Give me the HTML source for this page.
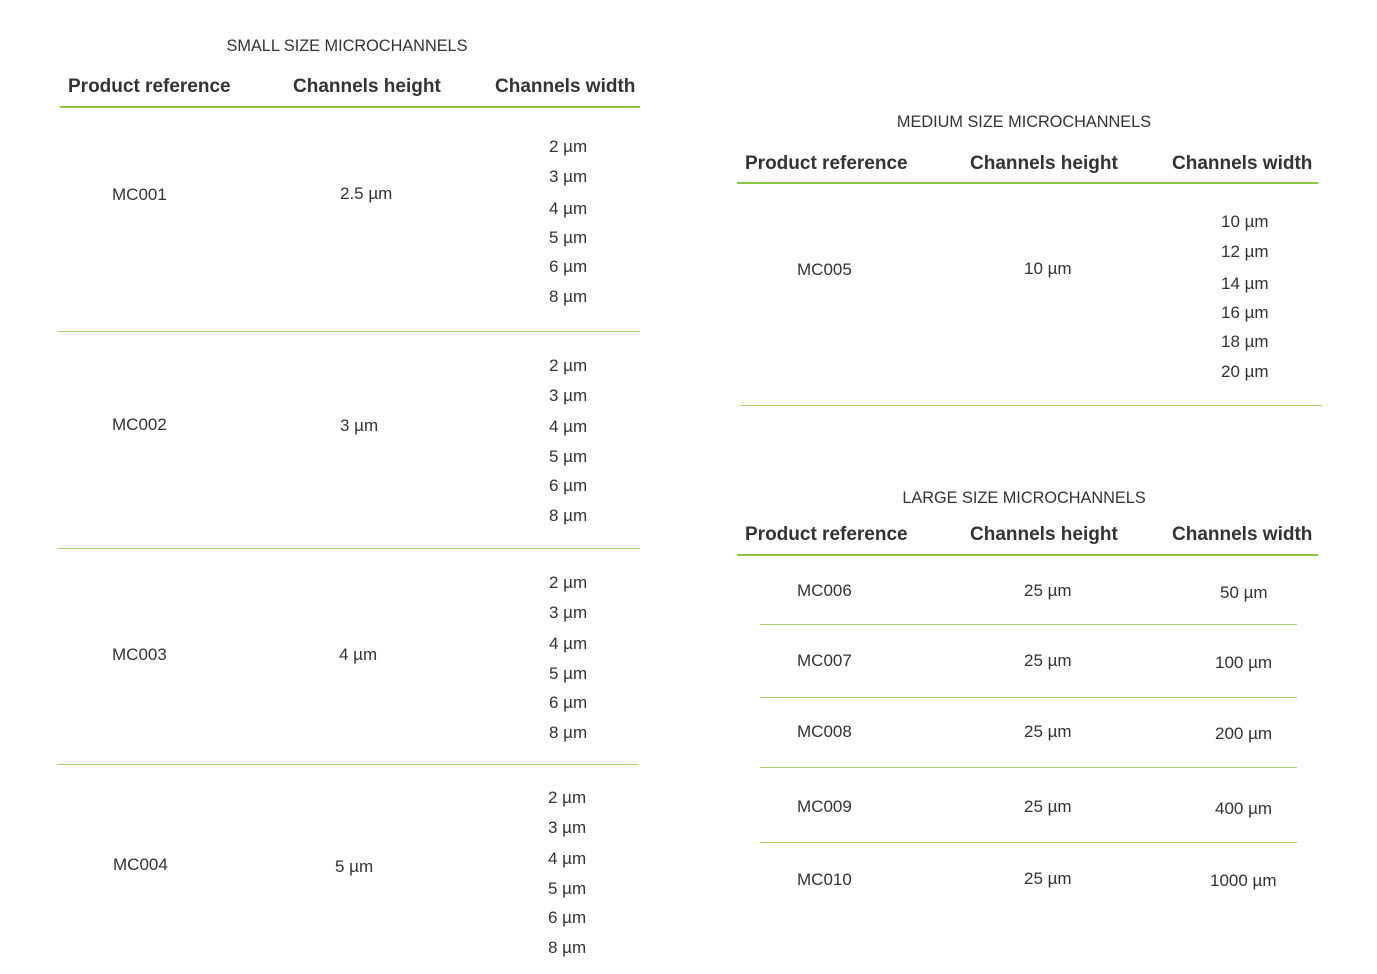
<!DOCTYPE html>
<html><head><meta charset="utf-8"><style>
body{margin:0;background:#fff;width:1377px;height:974px;position:relative;overflow:hidden;font-family:"Liberation Sans",sans-serif;color:#333}
.t{position:absolute;font-size:17px;line-height:20px;white-space:nowrap;margin-top:2px}
.h{position:absolute;font-size:19px;font-weight:bold;line-height:24px;white-space:nowrap;color:#333;margin-top:2px}
.ti{position:absolute;font-size:16.3px;line-height:20px;white-space:nowrap;transform:translateX(-50%);margin-top:2px}
.l{position:absolute;height:1px;background:#a9d46a}
.L{position:absolute;height:2px;background:#8dc63f}
</style></head><body>
<div class="ti" style="left:347px;top:34px">SMALL SIZE MICROCHANNELS</div>
<div class="h" style="left:68px;top:73px">Product reference</div>
<div class="h" style="left:293px;top:73px">Channels height</div>
<div class="h" style="left:495px;top:73px">Channels width</div>
<div class="L" style="left:60px;top:106px;width:580px"></div>

<div class="t" style="left:112px;top:183px">MC001</div>
<div class="t" style="left:340px;top:182px">2.5 µm</div>
<div class="t" style="left:549px;top:135px">2 µm</div>
<div class="t" style="left:549px;top:165px">3 µm</div>
<div class="t" style="left:549px;top:197px">4 µm</div>
<div class="t" style="left:549px;top:226px">5 µm</div>
<div class="t" style="left:549px;top:255px">6 µm</div>
<div class="t" style="left:549px;top:285px">8 µm</div>
<div class="l" style="left:58px;top:331px;width:582px"></div>

<div class="t" style="left:112px;top:413px">MC002</div>
<div class="t" style="left:340px;top:414px">3 µm</div>
<div class="t" style="left:549px;top:354px">2 µm</div>
<div class="t" style="left:549px;top:384px">3 µm</div>
<div class="t" style="left:549px;top:415px">4 µm</div>
<div class="t" style="left:549px;top:445px">5 µm</div>
<div class="t" style="left:549px;top:474px">6 µm</div>
<div class="t" style="left:549px;top:504px">8 µm</div>
<div class="l" style="left:58px;top:548px;width:582px"></div>

<div class="t" style="left:112px;top:643px">MC003</div>
<div class="t" style="left:339px;top:643px">4 µm</div>
<div class="t" style="left:549px;top:571px">2 µm</div>
<div class="t" style="left:549px;top:601px">3 µm</div>
<div class="t" style="left:549px;top:632px">4 µm</div>
<div class="t" style="left:549px;top:662px">5 µm</div>
<div class="t" style="left:549px;top:691px">6 µm</div>
<div class="t" style="left:549px;top:721px">8 µm</div>
<div class="l" style="left:57px;top:764px;width:581px"></div>

<div class="t" style="left:113px;top:853px">MC004</div>
<div class="t" style="left:335px;top:855px">5 µm</div>
<div class="t" style="left:548px;top:786px">2 µm</div>
<div class="t" style="left:548px;top:816px">3 µm</div>
<div class="t" style="left:548px;top:847px">4 µm</div>
<div class="t" style="left:548px;top:877px">5 µm</div>
<div class="t" style="left:548px;top:906px">6 µm</div>
<div class="t" style="left:548px;top:936px">8 µm</div>

<div class="ti" style="left:1024px;top:110px">MEDIUM SIZE MICROCHANNELS</div>
<div class="h" style="left:745px;top:150px">Product reference</div>
<div class="h" style="left:970px;top:150px">Channels height</div>
<div class="h" style="left:1172px;top:150px">Channels width</div>
<div class="L" style="left:737px;top:182px;width:581px"></div>
<div class="t" style="left:797px;top:258px">MC005</div>
<div class="t" style="left:1024px;top:257px">10 µm</div>
<div class="t" style="left:1221px;top:210px">10 µm</div>
<div class="t" style="left:1221px;top:240px">12 µm</div>
<div class="t" style="left:1221px;top:272px">14 µm</div>
<div class="t" style="left:1221px;top:301px">16 µm</div>
<div class="t" style="left:1221px;top:330px">18 µm</div>
<div class="t" style="left:1221px;top:360px">20 µm</div>
<div class="l" style="left:740px;top:405px;width:582px"></div>

<div class="ti" style="left:1024px;top:486px">LARGE SIZE MICROCHANNELS</div>
<div class="h" style="left:745px;top:521px">Product reference</div>
<div class="h" style="left:970px;top:521px">Channels height</div>
<div class="h" style="left:1172px;top:521px">Channels width</div>
<div class="L" style="left:737px;top:554px;width:581px"></div>

<div class="t" style="left:797px;top:579px">MC006</div>
<div class="t" style="left:1024px;top:579px">25 µm</div>
<div class="t" style="left:1220px;top:581px">50 µm</div>
<div class="l" style="left:760px;top:624px;width:537px"></div>
<div class="t" style="left:797px;top:649px">MC007</div>
<div class="t" style="left:1024px;top:649px">25 µm</div>
<div class="t" style="left:1215px;top:651px">100 µm</div>
<div class="l" style="left:760px;top:697px;width:537px"></div>
<div class="t" style="left:797px;top:720px">MC008</div>
<div class="t" style="left:1024px;top:720px">25 µm</div>
<div class="t" style="left:1215px;top:722px">200 µm</div>
<div class="l" style="left:760px;top:767px;width:537px"></div>
<div class="t" style="left:797px;top:795px">MC009</div>
<div class="t" style="left:1024px;top:795px">25 µm</div>
<div class="t" style="left:1215px;top:797px">400 µm</div>
<div class="l" style="left:760px;top:842px;width:537px"></div>
<div class="t" style="left:797px;top:868px">MC010</div>
<div class="t" style="left:1024px;top:867px">25 µm</div>
<div class="t" style="left:1210px;top:869px">1000 µm</div>
</body></html>
